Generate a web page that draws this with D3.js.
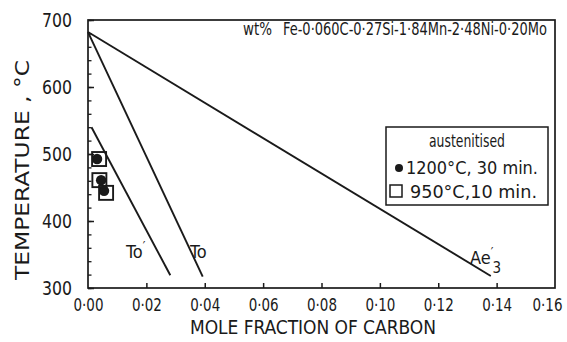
<!DOCTYPE html>
<html>
<head>
<meta charset="utf-8">
<script src="https://cdn.jsdelivr.net/npm/d3@7"></script>
<style>
body{margin:0;background:#fff}
text{font-family:"DejaVu Sans Condensed","DejaVu Sans",sans-serif;fill:#1a1a1a}
</style>
</head>
<body>
<script>
// values
var xTicks = [0, 0.02, 0.04, 0.06, 0.08, 0.10, 0.12, 0.14, 0.16]
var yTicks = [300, 400, 500, 600, 700]
var yMinor = d3.range(300, 701, 20)
var ae3 = [[0, 682], [0.138, 318]]
var to = [[0, 682], [0.0393, 317]]
var toPrime = [[0.0012, 540], [0.0282, 319]]
var pts950 = [[0.0038, 492.5], [0.0039, 461], [0.0062, 442]]
var pts1200 = [[0.0031, 492.5], [0.0045, 461], [0.0055, 445]]

var szer = 567, wys = 342
var svg = d3.select("body").append("svg").attr("width", szer).attr("height", wys)

var x = d3.scaleLinear().domain([0, 0.16]).range([88, 555])
var y = d3.scaleLinear().domain([300, 700]).range([288, 20])
var kropka = function(d){ return d3.format(".2f")(d).replace(".", "·") }
var ink = "#1a1a1a"

// squeeze a text horizontally so it takes the given width
function dopasuj(t, px, py, w) {
  var dl = t.node().getComputedTextLength()
  t.attr("transform", "translate(" + px + "," + py + ") scale(" + (w / dl) + ",1)")
}

// frame
svg.append("rect")
  .attr("x", x(0)).attr("y", y(700))
  .attr("width", x(0.16) - x(0)).attr("height", y(300) - y(700))
  .attr("fill", "none").attr("stroke", ink).attr("stroke-width", 1.7)

// x axis, ticks pointing inward
var osX = svg.append("g").attr("transform", "translate(0," + y(300) + ")")
  .call(d3.axisBottom(x).tickValues(xTicks).tickSizeInner(-5).tickSizeOuter(0).tickPadding(11).tickFormat(kropka))
osX.select(".domain").remove()
osX.selectAll("line").attr("stroke", ink).attr("stroke-width", 1.5)
  .filter(function(d){ return d === 0 || d === 0.16 }).remove()
osX.selectAll("text").style("font-size", "17px").attr("fill", ink)
  .attr("textLength", 30).attr("lengthAdjust", "spacingAndGlyphs")
  .filter(function(d){ return d === 0.16 }).attr("dx", -8)

// y axis minor ticks
var osYm = svg.append("g").attr("transform", "translate(" + x(0) + ",0)")
  .call(d3.axisLeft(y).tickValues(yMinor).tickSizeInner(-3.5).tickSizeOuter(0).tickFormat(""))
osYm.select(".domain").remove()
osYm.selectAll("line").attr("stroke", ink).attr("stroke-width", 1.3)

var osY = svg.append("g").attr("transform", "translate(" + x(0) + ",0)")
  .call(d3.axisLeft(y).tickValues(yTicks).tickSizeInner(-6).tickSizeOuter(0).tickPadding(16))
osY.select(".domain").remove()
osY.selectAll("line").attr("stroke", ink).attr("stroke-width", 1.5)
osY.selectAll("text").style("font-size", "19px").attr("fill", ink)
  .attr("textLength", 30).attr("lengthAdjust", "spacingAndGlyphs")

// axis titles
svg.append("text")
  .attr("x", 313).attr("y", 334)
  .attr("text-anchor", "middle")
  .attr("textLength", 246).attr("lengthAdjust", "spacing")
  .style("font-size", "19px")
  .text("MOLE  FRACTION  OF  CARBON")

svg.append("text")
  .attr("transform", "translate(29,170) rotate(-90)")
  .attr("text-anchor", "middle")
  .attr("textLength", 220).attr("lengthAdjust", "spacingAndGlyphs")
  .style("font-size", "19px")
  .text("TEMPERATURE , °C")

// curves
var linia = d3.line().x(function(d){ return x(d[0]) }).y(function(d){ return y(d[1]) })
;[ae3, to, toPrime].forEach(function(k){
  svg.append("path").attr("d", linia(k))
    .attr("fill", "none").attr("stroke", ink).attr("stroke-width", 1.9)
})

// curve labels
var lTo1 = svg.append("text").attr("x", 126).attr("y", 258).style("font-size", "18px")
lTo1.append("tspan").text("To")
lTo1.append("tspan").attr("dy", -8).style("font-size", "13px").text("′")
svg.append("text").attr("x", 190).attr("y", 258).style("font-size", "18px").text("To")
var lAe = svg.append("text").attr("x", 470).attr("y", 264).style("font-size", "18px")
lAe.append("tspan").text("Ae")
lAe.append("tspan").attr("dy", -8).style("font-size", "13px").text("′")
lAe.append("tspan").attr("dx", -1).attr("dy", 17).style("font-size", "15px").text("3")

// experimental points
svg.selectAll(".kolo").data(pts1200).enter().append("circle")
  .attr("class", "kolo")
  .attr("cx", function(d){ return x(d[0]) }).attr("cy", function(d){ return y(d[1]) })
  .attr("r", 5.2).attr("fill", ink)
svg.selectAll(".kwadrat").data(pts950).enter().append("rect")
  .attr("class", "kwadrat")
  .attr("x", function(d){ return x(d[0]) - 7 }).attr("y", function(d){ return y(d[1]) - 7 })
  .attr("width", 14).attr("height", 14)
  .attr("fill", "none").attr("stroke", ink).attr("stroke-width", 1.9)

// composition heading
svg.append("text").attr("x", 243).attr("y", 35).style("font-size", "17px")
  .attr("textLength", 29).attr("lengthAdjust", "spacingAndGlyphs").text("wt%")
var sklad = svg.append("text")
  .style("font-size", "18px")
  .text("Fe-0·060C-0·27Si-1·84Mn-2·48Ni-0·20Mo")
dopasuj(sklad, 283, 35, 264)

// legend
var leg = svg.append("g")
leg.append("rect").attr("x", 386).attr("y", 127).attr("width", 162).attr("height", 78)
  .attr("fill", "#fff").attr("stroke", ink).attr("stroke-width", 1.5)
leg.append("text").attr("x", 467).attr("y", 147).attr("text-anchor", "middle")
  .attr("textLength", 76).attr("lengthAdjust", "spacingAndGlyphs")
  .style("font-size", "17px").text("austenitised")
leg.append("circle").attr("cx", 399).attr("cy", 168).attr("r", 4).attr("fill", ink)
leg.append("text").attr("x", 406).attr("y", 174).style("font-size", "18px")
  .attr("textLength", 132).attr("lengthAdjust", "spacingAndGlyphs").text("1200°C, 30 min.")
leg.append("rect").attr("x", 390).attr("y", 185).attr("width", 12).attr("height", 12)
  .attr("fill", "none").attr("stroke", ink).attr("stroke-width", 1.5)
leg.append("text").attr("x", 410).attr("y", 198).style("font-size", "18px")
  .attr("textLength", 127).attr("lengthAdjust", "spacingAndGlyphs").text("950°C,10 min.")
</script>
</body>
</html>
